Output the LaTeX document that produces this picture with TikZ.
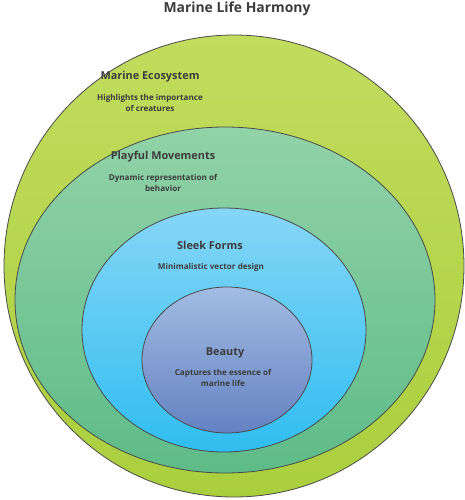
\documentclass[tikz,border=0pt]{standalone}
\usepackage{fontspec}
\setmainfont{Open Sans}
\definecolor{txt}{HTML}{3C3C3C}
\definecolor{edge}{HTML}{4A4A4A}
\definecolor{g1t}{HTML}{C2DC5E}
\definecolor{g1b}{HTML}{AACF3E}
\definecolor{g2t}{HTML}{92D2A8}
\definecolor{g2b}{HTML}{5EBB88}
\definecolor{g3t}{HTML}{86D6F6}
\definecolor{g3b}{HTML}{30BDF0}
\definecolor{g4t}{HTML}{A2BCE2}
\definecolor{g4b}{HTML}{6482C2}
\tikzset{
  ring/.style={draw=edge, line width=0.8pt},
  head/.style={font=\fontsize{10.9}{12}\selectfont\bfseries, text=txt, inner sep=0pt},
  sub/.style={font=\fontsize{8.1}{11}\selectfont\bfseries, text=txt, inner sep=0pt, align=center},
}
\begin{document}
\begin{tikzpicture}[x=1pt,y=-1pt]
\useasboundingbox (0,0) rectangle (464,500);
\fill[white] (0,0) rectangle (464,500);
\path[ring, top color=g1t, bottom color=g1b] (234,266) ellipse [x radius=230, y radius=231];
\path[ring, top color=g2t, bottom color=g2b] (225,300) ellipse [x radius=210, y radius=173];
\path[ring, top color=g3t, bottom color=g3b] (224,330) ellipse [x radius=142, y radius=122];
\path[ring, top color=g4t, bottom color=g4b] (227,360) ellipse [x radius=85, y radius=73];
\node[font=\fontsize{13.9}{15}\selectfont\bfseries, text=txt, inner sep=0pt] (title) at (237,9) {Marine Life Harmony};
\node[head] (h1) at (150,77) {Marine Ecosystem};
\node[sub] (s1) at (150,103) {Highlights the importance\\of creatures};
\node[head] (h2) at (163,157) {Playful Movements};
\node[sub] (s2) at (163,183) {Dynamic representation of\\behavior};
\node[head] (h3) at (210,245) {Sleek Forms};
\node[sub] (s3) at (211,267) {Minimalistic vector design};
\node[head] (h4) at (225,353) {Beauty};
\node[sub] (s4) at (223,378) {Captures the essence of\\marine life};
\end{tikzpicture}
\end{document}
